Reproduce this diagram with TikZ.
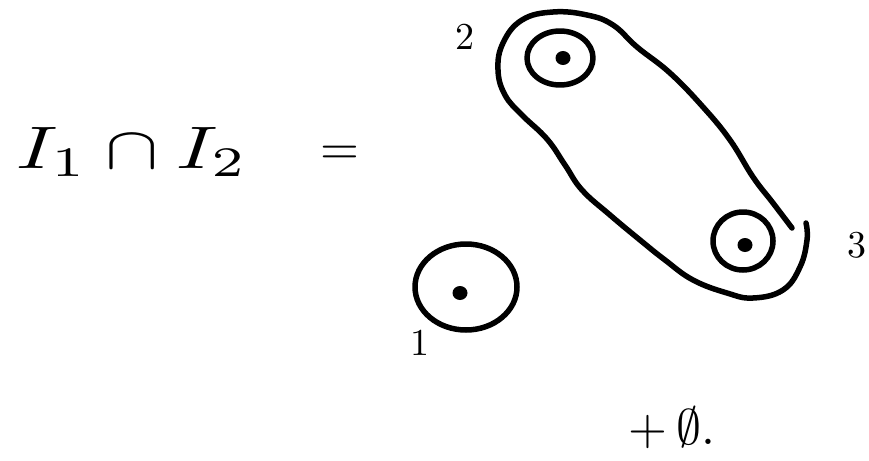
\documentclass[tikz,border=0pt]{standalone}
\usepackage{amsmath, amssymb}
\usepackage{graphicx}
\usetikzlibrary{positioning, calc}
\definecolor{mInk}{HTML}{000000}

\begin{document}
\begin{tikzpicture}[x=1pt, y=-1pt,
    ink/.style={draw=mInk, line width=5.5pt, line cap=round, line join=round},
    lbl/.style={inner sep=0pt, text=mInk}]
  \useasboundingbox (0,0) rectangle (869,460);
  % the three points, each with its ring
  \foreach \n/\x/\y/\rx/\ry/\dx/\dy in {1/466/287/51/43/-6/6, 2/560/58/33/27/3/0, 3/743/241/30/29/2/4} {
    \coordinate (p\n) at (\x,\y);
    \draw[ink] (p\n) ellipse [x radius=\rx, y radius=\ry];
    \fill[mInk] ($(p\n)+(\dx,\dy)$) ellipse [x radius=7.5, y radius=7];
  }
  % the loop round 2 and 3
  \draw[ink] plot[smooth, tension=0.7] coordinates {(792,228) (773,203) (753,177) (730,140) (703,107)
    (670,73) (637,47) (613,25) (587,15) (553,12) (522,20) (503,43) (498,70) (505,95) (522,115)
    (547,139) (565,165) (582,190) (610,215) (640,240) (665,260) (693,280) (727,293) (753,298) (783,290)
    (800,267) (807,240) (806,223)};
  % labels
  \node[lbl] (l2) at (465,37) {\scalebox{3.8}{2}};
  \node[lbl] (l3) at (857,245) {\scalebox{3.8}{3}};
  \node[lbl] (l1) at (420,343) {\scalebox{3.8}{1}};
  \node[lbl] (lhs) at (132,152) {\scalebox{8}[6]{$I_1\cap I_2$}};
  \node[lbl] (eq) at (340,155) {\scalebox{5}{$=$}};
  \node[lbl] (rest) at (672,428) {\scalebox{5}{$+\,\emptyset.$}};
\end{tikzpicture}
\end{document}
